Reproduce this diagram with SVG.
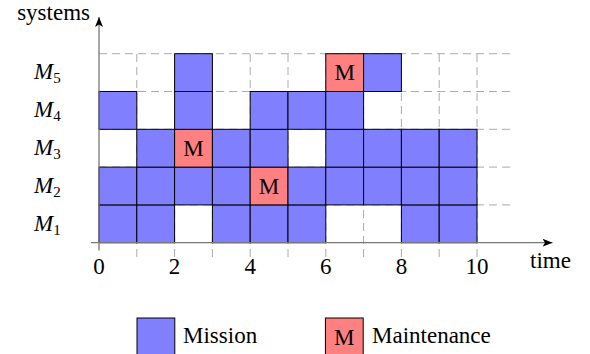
<svg xmlns="http://www.w3.org/2000/svg" width="590" height="354" viewBox="0 0 590 354">
  <defs>
    <style>
      .grid { stroke: #aaaaaa; stroke-width: 1; stroke-dasharray: 8 5; fill: none; }
      .axis { stroke: #777777; stroke-width: 1.3; fill: none; }
      .b { fill: #8080ff; stroke: #000; stroke-width: 1; }
      .r { fill: #ff8080; stroke: #000; stroke-width: 1; }
      .t { font-family: "Liberation Serif", "Times New Roman", serif; font-size: 23px; fill: #000; }
      .m { font-family: "Liberation Serif", "Times New Roman", serif; font-size: 23px; fill: #000; text-anchor: middle; }
      .lbl { font-family: "Liberation Serif", "Times New Roman", serif; font-size: 23px; font-style: italic; fill: #000; }
      .sub { font-size: 15px; font-style: normal; }
    </style>
    <marker id="arrow" viewBox="0 0 10 8" refX="10" refY="4" markerWidth="10" markerHeight="8" markerUnits="userSpaceOnUse" orient="auto">
      <path d="M0,0 L10,4 L0,8 L2.5,4 Z" fill="#000"/>
    </marker>
  </defs>
  <rect width="590" height="354" fill="#fff"/>

  <!-- dashed background grid -->
  <g id="grid" class="grid">
    <path d="M99,53.7 H515 M99,91.5 H515 M99,129.3 H515 M99,167.1 H515 M99,204.9 H515"/>
    <path d="M136.8,257 V49 M174.6,257 V49 M212.4,257 V49 M250.2,257 V49 M288,257 V49 M325.8,257 V49 M363.6,257 V49 M401.4,257 V49 M439.2,257 V49 M477,257 V49"/>
  </g>

  <!-- system M1 -->
  <g id="row-m1">
    <rect class="b" x="99" y="204.9" width="37.8" height="37.8"/>
    <rect class="b" x="136.8" y="204.9" width="37.8" height="37.8"/>
    <rect class="b" x="212.4" y="204.9" width="37.8" height="37.8"/>
    <rect class="b" x="250.2" y="204.9" width="37.8" height="37.8"/>
    <rect class="b" x="288" y="204.9" width="37.8" height="37.8"/>
    <rect class="b" x="401.4" y="204.9" width="37.8" height="37.8"/>
    <rect class="b" x="439.2" y="204.9" width="37.8" height="37.8"/>
  </g>

  <!-- system M2 -->
  <g id="row-m2">
    <rect class="b" x="99" y="167.1" width="37.8" height="37.8"/>
    <rect class="b" x="136.8" y="167.1" width="37.8" height="37.8"/>
    <rect class="b" x="174.6" y="167.1" width="37.8" height="37.8"/>
    <rect class="b" x="212.4" y="167.1" width="37.8" height="37.8"/>
    <g id="m2-maint">
      <rect class="r" x="250.2" y="167.1" width="37.8" height="37.8"/>
      <text class="m" x="269.1" y="193.6">M</text>
    </g>
    <rect class="b" x="288" y="167.1" width="37.8" height="37.8"/>
    <rect class="b" x="325.8" y="167.1" width="37.8" height="37.8"/>
    <rect class="b" x="363.6" y="167.1" width="37.8" height="37.8"/>
    <rect class="b" x="401.4" y="167.1" width="37.8" height="37.8"/>
    <rect class="b" x="439.2" y="167.1" width="37.8" height="37.8"/>
  </g>

  <!-- system M3 -->
  <g id="row-m3">
    <rect class="b" x="136.8" y="129.3" width="37.8" height="37.8"/>
    <g id="m3-maint">
      <rect class="r" x="174.6" y="129.3" width="37.8" height="37.8"/>
      <text class="m" x="193.5" y="155.8">M</text>
    </g>
    <rect class="b" x="212.4" y="129.3" width="37.8" height="37.8"/>
    <rect class="b" x="250.2" y="129.3" width="37.8" height="37.8"/>
    <rect class="b" x="325.8" y="129.3" width="37.8" height="37.8"/>
    <rect class="b" x="363.6" y="129.3" width="37.8" height="37.8"/>
    <rect class="b" x="401.4" y="129.3" width="37.8" height="37.8"/>
    <rect class="b" x="439.2" y="129.3" width="37.8" height="37.8"/>
  </g>

  <!-- system M4 -->
  <g id="row-m4">
    <rect class="b" x="99" y="91.5" width="37.8" height="37.8"/>
    <rect class="b" x="174.6" y="91.5" width="37.8" height="37.8"/>
    <rect class="b" x="250.2" y="91.5" width="37.8" height="37.8"/>
    <rect class="b" x="288" y="91.5" width="37.8" height="37.8"/>
    <rect class="b" x="325.8" y="91.5" width="37.8" height="37.8"/>
  </g>

  <!-- system M5 -->
  <g id="row-m5">
    <rect class="b" x="174.6" y="53.7" width="37.8" height="37.8"/>
    <g id="m5-maint">
      <rect class="r" x="325.8" y="53.7" width="37.8" height="37.8"/>
      <text class="m" x="344.7" y="80.2">M</text>
    </g>
    <rect class="b" x="363.6" y="53.7" width="37.8" height="37.8"/>
  </g>

  <!-- axes -->
  <g id="axes">
    <line class="axis" x1="91" y1="242.7" x2="552.5" y2="242.7" marker-end="url(#arrow)"/>
    <line class="axis" x1="99" y1="250.5" x2="99" y2="17" marker-end="url(#arrow)"/>
  </g>

  <!-- axis labels -->
  <g id="axis-labels">
    <text class="t" x="90" y="20" text-anchor="end">systems</text>
    <text class="t" x="530" y="268">time</text>
    <text class="m" x="99" y="274">0</text>
    <text class="m" x="174.6" y="274">2</text>
    <text class="m" x="250.2" y="274">4</text>
    <text class="m" x="325.8" y="274">6</text>
    <text class="m" x="401.4" y="274">8</text>
    <text class="m" x="477" y="274">10</text>
  </g>

  <!-- system labels -->
  <g id="system-labels">
    <text class="lbl" x="34" y="231">M<tspan class="sub" dy="4">1</tspan></text>
    <text class="lbl" x="34" y="193">M<tspan class="sub" dy="4">2</tspan></text>
    <text class="lbl" x="34" y="155">M<tspan class="sub" dy="4">3</tspan></text>
    <text class="lbl" x="34" y="117">M<tspan class="sub" dy="4">4</tspan></text>
    <text class="lbl" x="34" y="79">M<tspan class="sub" dy="4">5</tspan></text>
  </g>

  <!-- legend -->
  <g id="legend-mission">
    <rect class="b" x="137" y="318" width="37.8" height="37.8"/>
    <text class="t" x="183" y="343">Mission</text>
  </g>
  <g id="legend-maintenance">
    <rect class="r" x="325.4" y="318" width="37.8" height="37.8"/>
    <text class="m" x="344.3" y="344.5">M</text>
    <text class="t" x="372" y="343">Maintenance</text>
  </g>
</svg>
